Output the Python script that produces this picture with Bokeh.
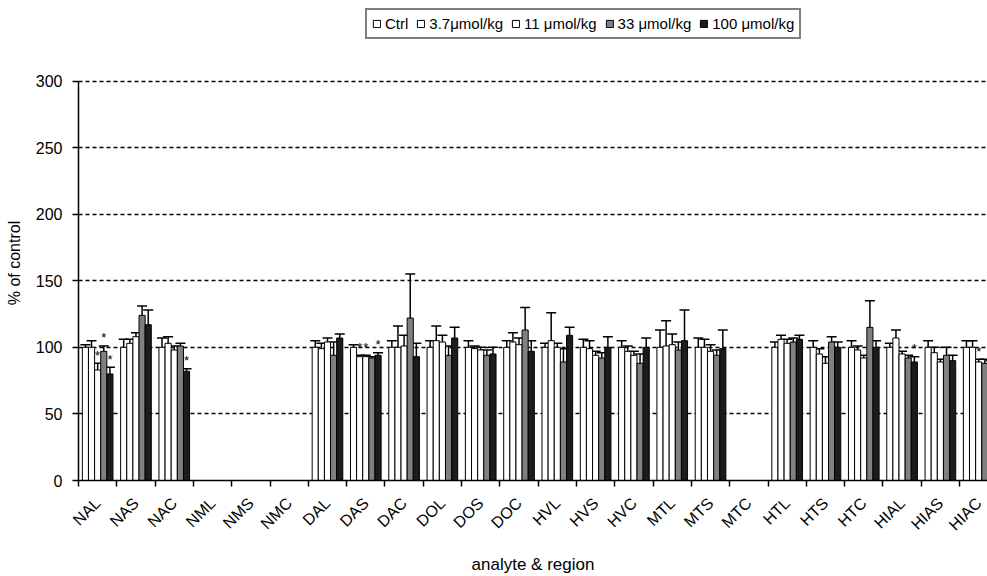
import math
import numpy as np
from bokeh.plotting import figure
from bokeh.models import (ColumnDataSource, Range1d, FixedTicker, Whisker, TeeHead,
                          Legend, LegendItem)
from bokeh.embed import file_html
from bokeh.resources import INLINE
from bokeh.core.properties import value

nan = float("nan")

categories = ["NAL", "NAS", "NAC", "NML", "NMS", "NMC", "DAL", "DAS", "DAC", "DOL",
              "DOS", "DOC", "HVL", "HVS", "HVC", "MTL", "MTS", "MTC", "HTL", "HTS",
              "HTC", "HIAL", "HIAS", "HIAC"]

series_names = ["Ctrl", "3.7\u03bcmol/kg", "11 \u03bcmol/kg", "33 \u03bcmol/kg", "100 \u03bcmol/kg"]

ctrl = [100, 100, 100, nan, nan, nan, 100, 100, 100, 100, 100, 100, 100, 100, 100, 100, 100, nan, 100, 100, 100, 100, 100, 100]
ctrl_err = [2, 6, 7, nan, nan, nan, 5, 2, 5, 5, 5, 5, 3, 6, 5, 13, 7, nan, 4, 5, 5, 3, 5, 5]
d37 = [100, 103, 103, nan, nan, nan, 99, 93, 100, 105, 99, 104, 105, 99, 97, 101, 100, nan, 106, 95, 98, 107, 96, 100]
d37_err = [5, 3, 5, nan, nan, nan, 4, 1, 16, 11, 2, 7, 21, 6, 4, 19, 6, nan, 3, 4, 3, 6, 4, 5]
d11 = [83, 108, 98, nan, nan, nan, 104, 93, 101, 104, 98, 102, 100, 94, 94, 102, 97, nan, 103, 88, 92, 95, 89, 89]
d11_err = [5, 3, 3, nan, nan, nan, 3, 1, 8, 5, 2, 5, 3, 3, 3, 8, 5, nan, 3, 5, 2, 2, 2, 2]
d33 = [97, 124, 101, nan, nan, nan, 94, 92, 122, 94, 94, 113, 89, 92, 88, 98, 94, nan, 104, 104, 115, 92, 94, 88]
d33_err = [4, 7, 2, nan, nan, nan, 10, 1, 33, 7, 4, 17, 10, 4, 7, 6, 4, nan, 3, 4, 20, 2, 6, 3]
d100 = [80, 117, 82, nan, nan, nan, 107, 94, 93, 107, 95, 97, 109, 100, 100, 105, 99, nan, 106, 100, 100, 89, 90, 87]
d100_err = [5, 11, 2, nan, nan, nan, 3, 2, 10, 8, 5, 8, 6, 8, 7, 23, 14, nan, 3, 4, 5, 4, 4, 3]

# significance markers: (category, series index)
star_cats = ["NAL", "NAL", "NAL", "NAC", "DAS", "DAS", "DAS", "HIAL", "HIAC"]
star_series = [2, 3, 4, 4, 1, 2, 4, 4, 2]

y_ticks = [0, 50, 100, 150, 200, 250, 300]

series_vals = [ctrl, d37, d11, d33, d100]
series_errs = [ctrl_err, d37_err, d11_err, d33_err, d100_err]
series_colors = ["white", "white", "white", "#808080", "#1c1c1c"]

FONT = "Liberation Sans"
BAR_W = 0.16
n = len(categories)

# frame: top at y=5 px, 0 at y=483 px, 1.34 px per unit -> top value ~356.7
p = figure(width=987, height=576, output_backend="svg", toolbar_location=None,
           x_range=Range1d(0, 23.73), y_range=Range1d(0, 356.7),
           min_border_left=78, min_border_right=0, min_border_top=5, min_border_bottom=93)
p.outline_line_color = None
p.background_fill_color = "white"
p.border_fill_color = "white"

renderers = []
for s, (vals, errs, col) in enumerate(zip(series_vals, series_errs, series_colors)):
    xs, ys, ups = [], [], []
    for i, (v, e) in enumerate(zip(vals, errs)):
        if v is None or (isinstance(v, float) and math.isnan(v)):
            continue
        xs.append(i + 0.5 + (s - 2) * BAR_W)
        ys.append(v)
        ups.append(v + e)
    src = ColumnDataSource(dict(x=xs, top=ys, upper=ups))
    r = p.vbar(x="x", top="top", bottom=0, width=BAR_W, source=src,
               fill_color=col, line_color="black", line_width=1)
    renderers.append(r)
    w = Whisker(source=src, base="x", upper="upper", lower="top", dimension="height",
                line_color="black", line_width=1.5,
                upper_head=TeeHead(size=10, line_color="black", line_width=1.5),
                lower_head=None)
    p.add_layout(w)

# stars
sx, sy = [], []
for c, s in zip(star_cats, star_series):
    i = categories.index(c)
    sx.append(i + 0.5 + (s - 2) * BAR_W)
    sy.append(series_vals[s][i] + series_errs[s][i] + 0.5)
p.text(x=sx, y=sy, text=["*"] * len(sx), text_align="center", text_baseline="bottom",
       text_font=value(FONT), text_font_size="13px", text_color="black")

# axes
centers = [i + 0.5 for i in range(n)]
bounds = [i for i in range(n + 1)]
p.xaxis.ticker = FixedTicker(ticks=centers, minor_ticks=bounds)
p.xaxis.major_label_overrides = {c: name for c, name in zip(centers, categories)}
p.xaxis.major_label_orientation = math.pi / 4
p.xaxis.major_tick_out = 0
p.xaxis.major_tick_in = 0
p.xaxis.minor_tick_out = 6
p.xaxis.minor_tick_in = 0
p.xaxis.minor_tick_line_color = "black"
p.xaxis.minor_tick_line_width = 1.5
p.xaxis.axis_line_width = 1.5
p.xaxis.major_label_standoff = 14
p.xaxis.major_label_text_font = FONT
p.xaxis.major_label_text_font_size = "16px"
p.xaxis.major_label_text_color = "black"
p.xaxis.axis_label = "analyte & region"
p.xaxis.axis_label_text_font = FONT
p.xaxis.axis_label_text_font_size = "17px"
p.xaxis.axis_label_text_font_style = "normal"
p.xaxis.axis_label_text_color = "black"
p.xaxis.axis_label_standoff = 12

p.yaxis.ticker = FixedTicker(ticks=y_ticks)
p.yaxis.bounds = (0, 300)
p.yaxis.minor_tick_line_color = None
p.yaxis.major_tick_out = 6
p.yaxis.major_tick_in = 0
p.yaxis.major_tick_line_width = 1.5
p.yaxis.axis_line_width = 1.5
p.yaxis.major_label_standoff = 10
p.yaxis.major_label_text_font = FONT
p.yaxis.major_label_text_font_size = "16px"
p.yaxis.major_label_text_color = "black"
p.yaxis.axis_label = "% of control" + "\u00a0" * 9
p.yaxis.axis_label_text_font = FONT
p.yaxis.axis_label_text_font_size = "16px"
p.yaxis.axis_label_text_font_style = "normal"
p.yaxis.axis_label_text_color = "black"
p.yaxis.axis_label_standoff = 10

p.xgrid.grid_line_color = None
p.ygrid.grid_line_color = "black"
p.ygrid.grid_line_dash = "4 3"
p.ygrid.grid_line_width = 1.5

legend = Legend(items=[LegendItem(label=nm, renderers=[r]) for nm, r in zip(series_names, renderers)],
                orientation="horizontal", location=(287, 441), margin=0,
                label_text_font=FONT, label_text_font_size="15px", label_text_color="black",
                glyph_width=9, glyph_height=9, label_standoff=4, spacing=8, padding=5,
                border_line_color="black", border_line_width=2,
                background_fill_color="white", background_fill_alpha=1)
p.add_layout(legend, "center")

open("out.html", "w").write(file_html(p, INLINE))
